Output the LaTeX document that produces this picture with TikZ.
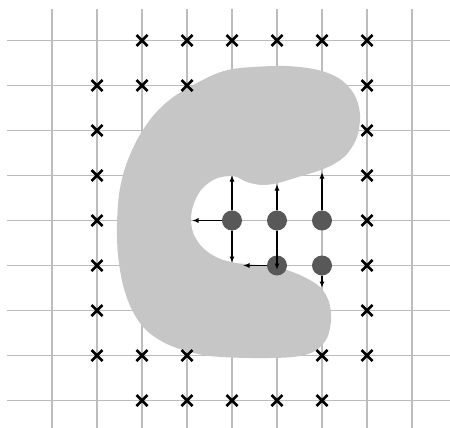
\documentclass[tikz,border=0pt]{standalone}
\usetikzlibrary{shapes.misc,arrows.meta}
\definecolor{gridc}{RGB}{188,188,188}
\definecolor{blobc}{RGB}{198,198,198}
\definecolor{dotc}{RGB}{88,88,88}
\begin{document}
\begin{tikzpicture}[x=1pt,y=-1pt,
 gridline/.style={gridc,line width=1.6pt},
 xmark/.style={cross out,draw=black,line width=2.5pt,minimum size=8.5pt,inner sep=0pt},
 dot/.style={circle,fill=dotc,minimum size=20pt,inner sep=0pt},
 arr/.style={-{Latex[length=6.5pt,width=5pt]},line width=1.4pt,black}]
\useasboundingbox (0,0) rectangle (450,428);
\fill[white] (0,0) rectangle (450,428);
% grid
\foreach \i in {0,...,8} {
  \draw[gridline] (52+45*\i,9) -- (52+45*\i,428);
  \draw[gridline] (7,40.5+45*\i) -- (450,40.5+45*\i);
}
% blob
\fill[blobc] plot[smooth cycle, tension=0.55] coordinates {
(240,68) (285,66) (318,70) (340,79) (354,94) (360,114) (357,137) (347,154) (334,164)
(318,171) (298,177) (278,183) (262,185) (247,182) (233,176) (215,179) (201,190)
(193,206) (191,221) (194,235) (203,248) (218,258) (236,263) (258,265) (280,268)
(302,276) (320,287) (329,302) (331,320) (327,338) (315,351) (293,357) (250,358)
(210,356) (183,350) (163,342) (145,329) (132,310) (123,285) (118,255) (117,225)
(119,195) (125,168) (137,140) (153,116) (172,98) (195,84) (218,73)};
% crosses
\foreach \c/\r in {2/0,3/0,4/0,5/0,6/0,7/0, 1/1,2/1,3/1,7/1, 1/2,7/2, 1/3,7/3, 1/4,7/4,
  1/5,7/5, 1/6,7/6, 1/7,2/7,3/7,6/7,7/7, 2/8,3/8,4/8,5/8,6/8}
  \node[xmark] (x\c\r) at (52+45*\c,40.5+45*\r) {};
% dots
\node[dot] (c1) at (232,220.5) {};
\node[dot] (c2) at (277,220.5) {};
\node[dot] (c3) at (322,220.5) {};
\node[dot] (c4) at (277,265.5) {};
\node[dot] (c5) at (322,265.5) {};
% arrow ends
\coordinate (a1) at (232,175);
\coordinate (a2) at (192,220.5);
\coordinate (a3) at (232,263);
\coordinate (a4) at (277,184);
\coordinate (a5) at (277,270);
\coordinate (a6) at (322,172);
\coordinate (a7) at (243,265.5);
\coordinate (a8) at (322,288);
\draw[arr] (c1) -- (a1);
\draw[arr] (c1) -- (a2);
\draw[arr] (c1) -- (a3);
\draw[arr] (c2) -- (a4);
\draw[arr] (c2.south) -- (a5);
\draw[arr] (c3) -- (a6);
\draw[arr] (c4) -- (a7);
\draw[arr] (c5) -- (a8);
\end{tikzpicture}
\end{document}
